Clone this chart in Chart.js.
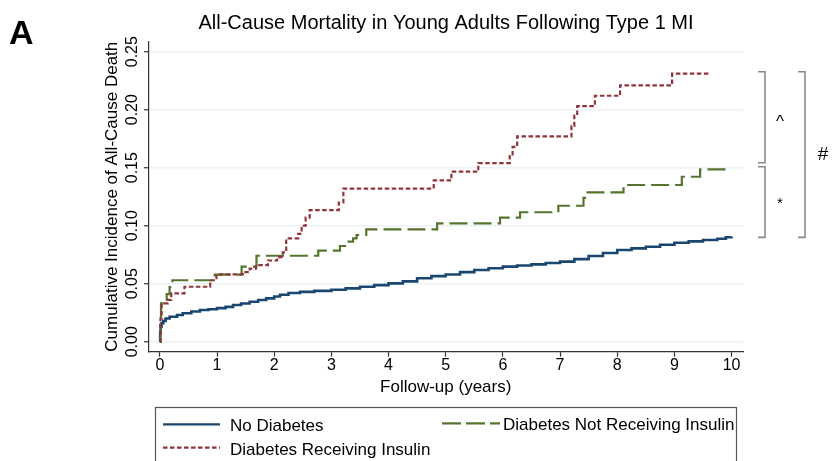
<!DOCTYPE html>
<html><head><meta charset="utf-8">
<script src="https://cdn.jsdelivr.net/npm/chart.js@4.4.1/dist/chart.umd.min.js"></script>
<style>html,body{margin:0;padding:0;background:#fff;}canvas{display:block;}</style>
</head><body>
<canvas id="c" width="837" height="461"></canvas>
<script>
// ---------- text ----------
const panelLabel = 'A';
const chartTitle = 'All-Cause Mortality in Young Adults Following Type 1 MI';
const yAxisTitle = 'Cumulative Incidence of All-Cause Death';
const xAxisTitle = 'Follow-up (years)';
const seriesNames = ['No Diabetes', 'Diabetes Receiving Insulin', 'Diabetes Not Receiving Insulin'];
const bracketSymbols = ['^', '*', '#'];

// ---------- ticks ----------
const xTickValues = [0, 1, 2, 3, 4, 5, 6, 7, 8, 9, 10];
const yTickValues = [0, 0.05, 0.10, 0.15, 0.20, 0.25];
const yTickLabels = ['0.00', '0.05', '0.10', '0.15', '0.20', '0.25'];

// ---------- series (time of step, cumulative incidence after step) ----------
const noDiabetesTime = [0, 0.005, 0.015, 0.03, 0.06, 0.1, 0.17, 0.3, 0.4, 0.55, 0.7, 0.85, 1.0, 1.15, 1.28, 1.42, 1.57, 1.72, 1.86, 2.0, 2.1, 2.25, 2.45, 2.7, 3.0, 3.25, 3.5, 3.75, 4.0, 4.25, 4.5, 4.75, 5.0, 5.25, 5.5, 5.75, 6.0, 6.25, 6.5, 6.75, 7.0, 7.25, 7.5, 7.75, 8.0, 8.25, 8.5, 8.75, 9.0, 9.25, 9.5, 9.75, 9.9, 10.0];
const noDiabetesCIF  = [0, 0.008, 0.013, 0.016, 0.018, 0.020, 0.0215, 0.023, 0.0245, 0.026, 0.0273, 0.028, 0.029, 0.030, 0.0316, 0.033, 0.0345, 0.036, 0.0374, 0.039, 0.0405, 0.042, 0.043, 0.0438, 0.0448, 0.046, 0.0474, 0.0488, 0.0503, 0.052, 0.0547, 0.0565, 0.058, 0.060, 0.0618, 0.0633, 0.0647, 0.0657, 0.0667, 0.0678, 0.069, 0.0712, 0.0739, 0.0765, 0.079, 0.0805, 0.0819, 0.0836, 0.0853, 0.0865, 0.0877, 0.0888, 0.0900, 0.0905];

const insulinTime = [0, 0.01, 0.03, 0.14, 0.2, 0.43, 0.88, 0.99, 1.45, 1.57, 1.68, 1.89, 2.05, 2.15, 2.21, 2.42, 2.48, 2.55, 2.62, 3.13, 3.21, 4.79, 5.10, 5.57, 6.12, 6.17, 6.25, 7.20, 7.25, 7.30, 7.61, 8.05, 8.96, 9.63];
const insulinCIF  = [0, 0.02, 0.033, 0.036, 0.0417, 0.0474, 0.053, 0.058, 0.060, 0.063, 0.066, 0.070, 0.073, 0.077, 0.089, 0.093, 0.100, 0.107, 0.1135, 0.120, 0.132, 0.139, 0.1466, 0.154, 0.160, 0.168, 0.177, 0.186, 0.195, 0.203, 0.212, 0.221, 0.231, 0.231];

const noInsulinTime = [0, 0.01, 0.02, 0.08, 0.12, 0.17, 0.22, 0.96, 1.43, 1.69, 2.77, 3.15, 3.30, 3.38, 3.44, 3.61, 4.85, 5.95, 6.30, 6.97, 7.41, 7.46, 8.11, 9.13, 9.45, 9.95];
const noInsulinCIF  = [0, 0.015, 0.033, 0.036, 0.041, 0.047, 0.053, 0.0578, 0.0647, 0.0741, 0.0785, 0.0825, 0.0862, 0.089, 0.092, 0.0969, 0.102, 0.107, 0.1116, 0.1172, 0.124, 0.1288, 0.1351, 0.1422, 0.1486, 0.1486];

// ---------- styles ----------
const colBlue = '#1a476f', colRed = '#90353b', colGreen = '#55752f';
const FONT = "'Liberation Sans', Arial, Helvetica, sans-serif";

const toPts = (t, v) => t.map((x, i) => ({ x: x, y: v[i] }));

const decor = {
  id: 'decor',
  afterDraw(chart) {
    const ctx = chart.ctx, xs = chart.scales.x, ys = chart.scales.y;
    ctx.save();
    ctx.fillStyle = '#000';
    // panel label
    ctx.font = 'bold 34px ' + FONT;
    ctx.textAlign = 'left'; ctx.textBaseline = 'alphabetic';
    ctx.fillText(panelLabel, 9, 43.5);
    // title
    ctx.font = '20px ' + FONT;
    ctx.textAlign = 'center';
    ctx.fillText(chartTitle, 446, 29);
    // x title
    ctx.font = '17px ' + FONT;
    ctx.fillText(xAxisTitle, (xs.getPixelForValue(0) + xs.getPixelForValue(10)) / 2, 392);
    // y title (rotated)
    ctx.save();
    ctx.translate(116.5, (chart.chartArea.top + chart.chartArea.bottom) / 2);
    ctx.rotate(-Math.PI / 2);
    ctx.fillText(yAxisTitle, 0, 0);
    ctx.restore();
    // y tick labels (rotated)
    ctx.font = '16px ' + FONT;
    yTickValues.forEach((v, i) => {
      ctx.save();
      ctx.translate(136.5, ys.getPixelForValue(v));
      ctx.rotate(-Math.PI / 2);
      ctx.textAlign = 'center';
      ctx.fillText(yTickLabels[i], 0, 0);
      ctx.restore();
    });
    // brackets
    const redEnd = insulinCIF[insulinCIF.length - 1];
    const greenEnd = noInsulinCIF[noInsulinCIF.length - 1];
    const blueEnd = noDiabetesCIF[noDiabetesCIF.length - 1];
    const pR = ys.getPixelForValue(redEnd) - 2;
    const pG = ys.getPixelForValue(greenEnd);
    const pB = ys.getPixelForValue(blueEnd) + 0.6;
    ctx.strokeStyle = '#8a8a8a'; ctx.lineWidth = 1.6;
    const bracket = (x, y1, y2) => {
      ctx.beginPath();
      ctx.moveTo(x - 7, y1); ctx.lineTo(x, y1); ctx.lineTo(x, y2); ctx.lineTo(x - 7, y2);
      ctx.stroke();
    };
    bracket(765, pR, pG - 6.5);
    bracket(765, pG - 2.6, pB);
    bracket(805, pR, pB);
    ctx.fillStyle = '#000';
    ctx.textAlign = 'center'; ctx.textBaseline = 'middle';
    ctx.font = '17px ' + FONT;
    ctx.fillText(bracketSymbols[0], 780, 122);
    ctx.font = '15px ' + FONT;
    ctx.fillText(bracketSymbols[1], 780, 204);
    ctx.font = '19px ' + FONT;
    ctx.fillText(bracketSymbols[2], 823, 155);
    // legend
    ctx.strokeStyle = '#555'; ctx.lineWidth = 1.2;
    ctx.strokeRect(155.5, 407.5, 581, 70);
    ctx.lineWidth = 2.2;
    const sample = (x1, x2, y, col, dash) => {
      ctx.save(); ctx.strokeStyle = col; ctx.setLineDash(dash);
      ctx.beginPath(); ctx.moveTo(x1, y); ctx.lineTo(x2, y); ctx.stroke(); ctx.restore();
    };
    sample(163, 220, 424.3, colBlue, []);
    sample(163, 220, 447.7, colRed, [4.5, 2.5]);
    sample(442, 500, 423.3, colGreen, [19, 5]);
    ctx.font = '17px ' + FONT;
    ctx.textAlign = 'left'; ctx.textBaseline = 'alphabetic';
    ctx.fillStyle = '#000';
    ctx.fillText(seriesNames[0], 230, 430.5);
    ctx.fillText(seriesNames[1], 230, 454.5);
    ctx.fillText(seriesNames[2], 503, 430);
    ctx.restore();
  }
};

new Chart(document.getElementById('c'), {
  type: 'line',
  data: {
    datasets: [
      { label: seriesNames[0], data: toPts(noDiabetesTime, noDiabetesCIF), borderColor: colBlue, borderWidth: 2.6, stepped: 'before', pointRadius: 0, fill: false, order: 3 },
      { label: seriesNames[2], data: toPts(noInsulinTime, noInsulinCIF), borderColor: colGreen, borderWidth: 2.2, borderDash: [18, 6], stepped: 'before', pointRadius: 0, fill: false, order: 2 },
      { label: seriesNames[1], data: toPts(insulinTime, insulinCIF), borderColor: colRed, borderWidth: 2.2, borderDash: [4.5, 2.5], stepped: 'before', pointRadius: 0, fill: false, order: 1 }
    ]
  },
  options: {
    responsive: false,
    devicePixelRatio: 1,
    animation: false,
    parsing: false,
    layout: { padding: { top: 41.7, right: 94, bottom: 0, left: 0 } },
    plugins: { legend: { display: false }, tooltip: { enabled: false }, title: { display: false } },
    scales: {
      x: {
        type: 'linear', min: -0.19, max: 10.2,
        afterBuildTicks: s => { s.ticks = xTickValues.map(v => ({ value: v })); },
        afterFit: s => { s.height = 461 - 351.7; },
        grid: { drawOnChartArea: false, drawTicks: true, tickLength: 5, tickColor: '#333', tickWidth: 1.2 },
        border: { display: true, color: '#333', width: 1.2 },
        ticks: { color: '#000', font: { family: FONT, size: 16 }, padding: -1, maxRotation: 0, autoSkip: false, callback: v => String(v) }
      },
      y: {
        type: 'linear', min: -0.0086, max: 0.2586,
        afterBuildTicks: s => { s.ticks = yTickValues.map(v => ({ value: v })); },
        afterFit: s => { s.width = 149; },
        grid: { color: '#eaf2f3', lineWidth: 1.5, drawTicks: true, tickLength: 5, tickColor: '#333', tickWidth: 1.2 },
        border: { display: true, color: '#333', width: 1.2 },
        ticks: { display: false }
      }
    }
  },
  plugins: [decor]
});
</script>
</body></html>
